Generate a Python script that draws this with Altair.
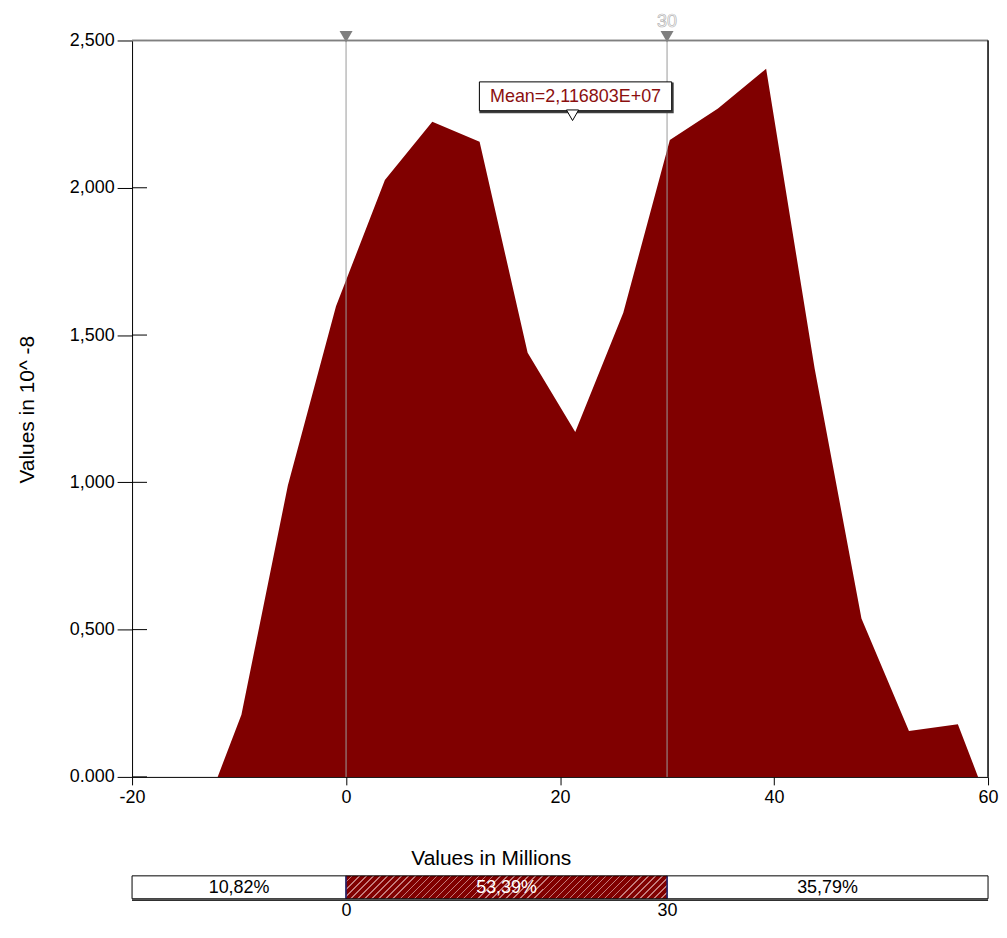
import altair as alt
import pandas as pd

# ---- data ----
x_vals = [-12.0, -9.78, -5.44, -0.94, 3.63, 8.06, 12.48, 16.97, 21.42, 25.91,
          30.26, 34.76, 39.26, 43.79, 48.17, 52.61, 57.18, 59.07]
y_vals = [0.0, 0.211, 0.989, 1.598, 2.026, 2.224, 2.156, 1.440, 1.171, 1.576,
          2.162, 2.269, 2.404, 1.387, 0.538, 0.156, 0.179, 0.0]

marker_vals = [0, 30]
marker_label_vals = [30]
mean_value = 21.16803
mean_label = "Mean=2,116803E+07"
y_ticks = [0, 0.5, 1.0, 1.5, 2.0, 2.5]
x_ticks = [-20, 0, 20, 40, 60]

seg_start = [-20, 0, 30]
seg_end = [0, 30, 60]
seg_label = ["10,82%", "53,39%", "35,79%"]

W, H = 859, 739
FONT = "Liberation Sans"
DARK = "#800000"

df = pd.DataFrame({"x": x_vals, "y": y_vals})
mk = pd.DataFrame({"m": marker_vals})
mk_lab = pd.DataFrame({"m": marker_label_vals, "t": [str(v) for v in marker_label_vals]})
mean_df = pd.DataFrame({"m": [mean_value], "t": [mean_label]})
yt = pd.DataFrame({"t": y_ticks})
seg = pd.DataFrame({"s": seg_start, "e": seg_end, "label": seg_label})

xscale = alt.Scale(domain=[-20, 60], nice=False, zero=False)
yscale = alt.Scale(domain=[0, 2.5], nice=False, zero=False)

area = alt.Chart(df).mark_area(color=DARK, opacity=1).encode(
    x=alt.X("x:Q", scale=xscale, axis=alt.Axis(
        values=x_ticks, labelExpr="datum.value + ''", grid=False, tickSize=8,
        tickColor="black", domainColor="black", labelColor="black",
        labelFontSize=18, labelFont=FONT, labelPadding=4, labelFlush=False,
        title="Values in Millions", titleFont=FONT, titleFontSize=21,
        titleFontWeight="normal", titleColor="black", titleX=360, titleY=88,
        titleAlign="center", titleBaseline="alphabetic")),
    y=alt.Y("y:Q", scale=yscale, axis=alt.Axis(
        values=y_ticks, grid=False, tickSize=15, tickColor="black",
        domainColor="black", labelColor="black", labelFontSize=18, labelFont=FONT,
        labelPadding=3, labelFlush=False,
        labelExpr="datum.value == 0 ? '0.000' : replace(format(datum.value, '.3f'), '.', ',')",
        title="Values in 10^ -8", titleFont=FONT, titleFontSize=21,
        titleFontWeight="normal", titleColor="black", titleAngle=270,
        titleX=-105, titleY=370, titleAlign="center", titleBaseline="middle")),
)

inner_ticks = alt.Chart(yt).mark_rule(color="black", strokeWidth=1).encode(
    y=alt.Y("t:Q", scale=yscale), x=alt.value(0), x2=alt.value(15))

vlines = alt.Chart(mk).mark_rule(color="#9a9a9a", strokeWidth=1).encode(
    x=alt.X("m:Q", scale=xscale))

tri = alt.Chart(mk).mark_point(shape="triangle-down", filled=True, color="#7f7f7f",
                               size=170, opacity=1).encode(
    x=alt.X("m:Q", scale=xscale), y=alt.value(-4))

tri_lab = alt.Chart(mk_lab).mark_text(font=FONT, fontSize=18, fill="white",
                                      stroke="#b4b4b4", strokeWidth=0.7,
                                      baseline="middle").encode(
    x=alt.X("m:Q", scale=xscale), y=alt.value(-19), text="t:N")

box_shape = "M-1,-0.150L1,-0.150L1,0.150L-1,0.150Z"
box_shadow = alt.Chart(mean_df).mark_point(shape=box_shape, filled=True, fill="#404040",
                                           stroke="#404040", size=193 * 193, opacity=1).encode(
    x=alt.X("m:Q", scale=xscale), xOffset=alt.value(4), y=alt.value(57.5))
box = alt.Chart(mean_df).mark_point(shape=box_shape, filled=True, fill="white",
                                    stroke="black", strokeWidth=1, size=193 * 193,
                                    opacity=1).encode(
    x=alt.X("m:Q", scale=xscale), xOffset=alt.value(3), y=alt.value(56))
box_text = alt.Chart(mean_df).mark_text(font=FONT, fontSize=18, color="#8b0f0f",
                                        baseline="middle").encode(
    x=alt.X("m:Q", scale=xscale), xOffset=alt.value(3), y=alt.value(57), text="t:N")
mean_tri = alt.Chart(mean_df).mark_point(shape="triangle-down", filled=True, fill="white",
                                         stroke="black", strokeWidth=1, size=150,
                                         opacity=1).encode(
    x=alt.X("m:Q", scale=xscale), y=alt.value(75))

top_border = alt.Chart(mk).mark_rule(color="#808080", strokeWidth=1.5).encode(
    x=alt.value(0), x2=alt.value(W), y=alt.value(0))
right_border = alt.Chart(mk).mark_rule(color="black", strokeWidth=1).encode(
    x=alt.value(W), y=alt.value(0), y2=alt.value(H))

top = alt.layer(area, vlines, inner_ticks, top_border, right_border, tri, tri_lab,
                box_shadow, box, box_text, mean_tri).properties(width=W, height=H)

# ---- bottom percentage bar (diagonal hatch via hard-stop gradient) ----
BW, BH = 322.0, 23.0
gx2 = (BW + BH) / (BW * (1 + (BH / BW) ** 2))
gy2 = gx2 * BH / BW
period = 0.0205
light_frac = 0.2
stops = []
i = 0
while i * period < 1.0:
    a = i * period
    b = min(a + period * (1 - light_frac), 1.0)
    c = min(a + period, 1.0)
    stops += [
        {"offset": a, "color": DARK},
        {"offset": b, "color": DARK},
        {"offset": b, "color": "#c47a7a"},
        {"offset": c, "color": "#c47a7a"},
    ]
    i += 1
hatch = {"gradient": "linear", "x1": 0, "y1": 0, "x2": gx2, "y2": gy2, "stops": stops}

bx = alt.X("s:Q", scale=xscale, axis=alt.Axis(
    values=marker_vals, labelExpr="datum.value + ''", ticks=False, domain=False,
    grid=False, labelFontSize=18, labelFont=FONT, labelColor="black", labelPadding=3,
    labelFlush=False, title=None))

white_rects = alt.Chart(seg).transform_filter("datum.s != 0").mark_rect(
    fill="white", stroke="black", strokeWidth=1).encode(x=bx, x2="e:Q")
hatch_rect = alt.Chart(seg).transform_filter("datum.s == 0").mark_rect(
    fill=hatch, stroke="black", strokeWidth=1).encode(x=bx, x2="e:Q")
shadow_rule = alt.Chart(mk).mark_rule(color="#303030", strokeWidth=1.5).encode(
    x=alt.value(0), x2=alt.value(W), y=alt.value(24.5))
div_rules = alt.Chart(mk).mark_rule(color="#3030a8", strokeWidth=1).encode(
    x=alt.X("m:Q", scale=xscale), y=alt.value(0.5), y2=alt.value(22.5))
seg_text = alt.Chart(seg).transform_calculate(mid="(datum.s + datum.e) / 2").mark_text(
    font=FONT, fontSize=18, baseline="middle").encode(
    x=alt.X("mid:Q", scale=xscale),
    y=alt.value(12),
    text="label:N",
    color=alt.condition("datum.s == 0", alt.value("white"), alt.value("black")))

bottom = alt.layer(white_rects, hatch_rect, shadow_rule, div_rules, seg_text).properties(
    width=W, height=23)

chart = alt.vconcat(top, bottom, spacing=6.3).properties(
    padding={"left": 8.5, "top": 3, "right": 0, "bottom": 0},
    background="white",
).configure_view(stroke=None)

chart.save("out.html", embed_options={"renderer": "svg", "actions": False})
